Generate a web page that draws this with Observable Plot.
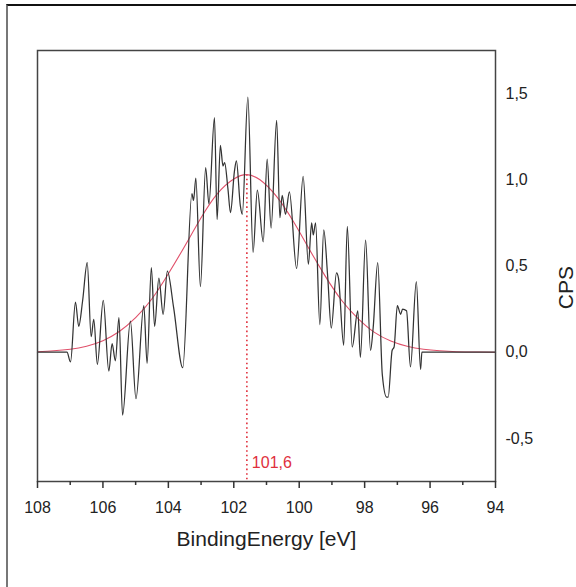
<!DOCTYPE html>
<html>
<head>
<meta charset="utf-8">
<script src="https://cdn.jsdelivr.net/npm/d3@7"></script>
<script src="https://cdn.jsdelivr.net/npm/@observablehq/plot@0.6"></script>
<style>
  html, body { margin: 0; padding: 0; background: #fff; }
  #wrap { position: relative; width: 576px; height: 587px; overflow: hidden; }
  #edge { position: absolute; left: 6px; top: 4px; right: 0; bottom: 0;
          border-top: 2px solid #111; border-left: 2px solid #777; pointer-events: none; }
</style>
</head>
<body>
<div id="wrap"><div id="edge"></div></div>
<script>
// Measured spectrum (binding energy in eV, counts per second)
const energy = [108, 107.1, 106.99, 106.84, 106.74, 106.62, 106.48, 106.36, 106.28, 106.17, 105.99, 105.82, 105.72, 105.62, 105.51, 105.40, 105.16, 104.99, 104.75, 104.65, 104.52, 104.42, 104.29, 104.16, 104.03, 103.84, 103.56, 103.28, 103.23, 103.16, 103.02, 102.86, 102.76, 102.59, 102.51, 102.41, 102.33, 102.28, 102.18, 102.10, 101.98, 101.92, 101.80, 101.74, 101.57, 101.41, 101.28, 101.10, 100.98, 100.86, 100.69, 100.59, 100.52, 100.42, 100.30, 100.08, 99.88, 99.72, 99.62, 99.57, 99.50, 99.37, 99.25, 99.13, 99.02, 98.86, 98.80, 98.64, 98.53, 98.38, 98.21, 98.13, 97.97, 97.82, 97.74, 97.60, 97.46, 97.33, 97.28, 97.16, 97.10, 97.00, 96.90, 96.84, 96.72, 96.60, 96.42, 96.29, 96.25, 94];
const cps = [0, 0, -0.056, 0.29, 0.15, 0.30, 0.52, 0.09, 0.19, -0.07, 0.30, -0.11, 0.05, -0.05, 0.20, -0.365, 0.18, -0.27, 0.27, -0.065, 0.49, 0.15, 0.43, 0.22, 0.47, 0.26, -0.09, 0.92, 0.88, 1.01, 0.38, 1.07, 0.86, 1.36, 0.77, 1.20, 1.08, 1.10, 0.95, 0.81, 1.05, 1.11, 0.85, 0.80, 1.48, 0.58, 0.94, 0.64, 1.12, 0.72, 1.345, 0.78, 0.91, 0.80, 0.93, 0.485, 1.02, 0.51, 0.75, 0.68, 0.75, 0.16, 0.71, 0.44, 0.14, 0.46, 0.43, 0.04, 0.73, 0.03, 0.24, -0.03, 0.65, 0.01, 0.14, 0.52, -0.13, -0.26, -0.26, 0.01, 0.03, 0.27, 0.22, 0.25, 0.24, -0.085, 0.41, -0.10, 0, 0];

// Fitted peak curve
const fitE = [108, 107.5, 107, 106.5, 106, 105.5, 105, 104.5, 104, 103.5, 103, 102.5, 102, 101.6, 101.2, 100.7, 100.2, 99.7, 99.2, 98.7, 98.2, 97.7, 97.2, 96.7, 96.2, 95.7, 95.2, 94.5, 94];
const fitV = [0.003, 0.008, 0.017, 0.035, 0.067, 0.12, 0.2, 0.31, 0.455, 0.615, 0.78, 0.92, 1.005, 1.03, 1.0, 0.905, 0.765, 0.6, 0.44, 0.3, 0.195, 0.115, 0.065, 0.034, 0.017, 0.008, 0.003, 0.001, 0];

// Peak marker
const peakE = 101.6;
const peakV = 1.03;
const peakLabel = "101,6";

// Axes
const xDomain = [108, 94];
const yDomain = [-0.75, 1.75];
const xMajor = [108, 106, 104, 102, 100, 98, 96, 94];
const xMinor = [107, 105, 103, 101, 99, 97, 95];
const yTicks = [-0.5, 0, 0.5, 1, 1.5];
const xTitle = "BindingEnergy [eV]";
const yTitle = "CPS";

const spectrum = energy.map((e, i) => ({e, v: cps[i]}));
const fit = fitE.map((e, i) => ({e, v: fitV[i]}));

const fmtY = d => d3.format(".1f")(d).replace(".", ",").replace("\u2212", "-");
const red = "#e0303c";
const font = "'Liberation Sans', Arial, Helvetica, sans-serif";

const chart = Plot.plot({
  width: 576,
  height: 587,
  marginLeft: 37,
  marginRight: 81,
  marginTop: 50,
  marginBottom: 106,
  style: {fontFamily: font, fontSize: "16px", color: "#222", background: "transparent"},
  x: {domain: xDomain, label: null},
  y: {domain: yDomain, label: null},
  marks: [
    Plot.ruleX([peakE], {y1: peakV, y2: yDomain[0], stroke: red, strokeWidth: 1.6, strokeDasharray: "1.6,3"}),
    Plot.line(fit, {x: "e", y: "v", stroke: "#e0506a", strokeWidth: 1.1, curve: "natural"}),
    Plot.line(spectrum, {x: "e", y: "v", stroke: "#333", strokeWidth: 1.25, curve: "monotone-x"}),
    Plot.text([peakLabel], {x: [peakE], y: [yDomain[0]], text: d => d, textAnchor: "start", dx: 5, dy: -19, fill: red, fontSize: 16}),
    Plot.frame({stroke: "#444", strokeWidth: 1.5}),
    Plot.axisX({ticks: xMajor, tickSize: 7, tickPadding: 13, tickFormat: d => String(d), label: null, stroke: "#333", strokeWidth: 1.5}),
    Plot.axisX({ticks: xMinor, tickSize: 4, tickFormat: () => "", label: null, stroke: "#333", strokeWidth: 1.5}),
    Plot.axisY({anchor: "right", ticks: yTicks, tickSize: 0, tickPadding: 10, tickFormat: fmtY, label: null}),
    Plot.text([xTitle], {frameAnchor: "bottom", text: d => d, dy: 64, fontSize: 21, fill: "#222"}),
    Plot.text([yTitle], {frameAnchor: "right", text: d => d, dx: 71, rotate: -90, fontSize: 21, fill: "#222"})
  ]
});
document.getElementById("wrap").prepend(chart);
</script>
</body>
</html>
